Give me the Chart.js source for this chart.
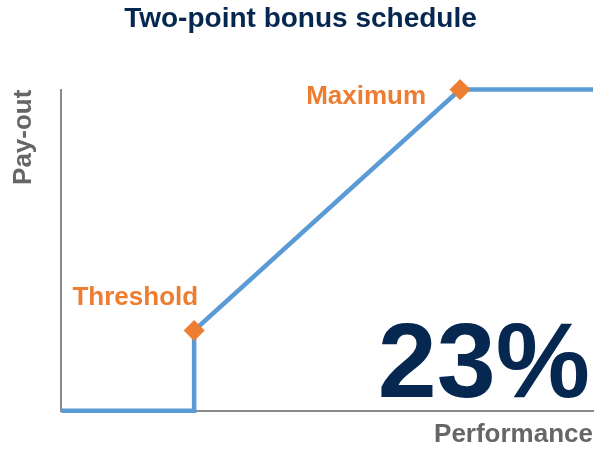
<!DOCTYPE html>
<html>
<head>
<meta charset="utf-8">
<title>Two-point bonus schedule</title>
<script src="https://cdn.jsdelivr.net/npm/chart.js@4.4.1/dist/chart.umd.min.js"></script>
<style>
  html, body { margin: 0; padding: 0; background: #ffffff; }
  #wrap { width: 606px; height: 452px; }
</style>
</head>
<body>
<div id="wrap"><canvas id="chart1" width="606" height="452"></canvas></div>
<script>
/* Datos del grafico */
var performance = [0, 25, 25, 75, 100];
var payout = [0, 0, 25, 100, 100];
var markerNames = ['Threshold', 'Maximum'];
var markerPerformance = [25, 75];
var markerPayout = [25, 100];
var headline = '23%';

var navy = '#06274f';
var grey = '#666666';
var orange = '#ed7d31';
var blue = '#5b9bd5';

var linePoints = [];
for (var i = 0; i < performance.length; i++) {
    linePoints.push({ x: performance[i], y: payout[i] });
}
var markerPoints = [];
for (var j = 0; j < markerNames.length; j++) {
    markerPoints.push({ x: markerPerformance[j], y: markerPayout[j] });
}

/* Etiquetas de los puntos y el numero grande */
var labelsPlugin = {
    id: 'labels',
    afterDatasetsDraw: function (chart) {
        var ctx = chart.ctx;
        var meta = chart.getDatasetMeta(1);
        var area = chart.chartArea;
        ctx.save();
        ctx.fillStyle = orange;
        ctx.font = 'bold 26px "Liberation Sans", Arial, sans-serif';
        ctx.textAlign = 'right';
        ctx.textBaseline = 'alphabetic';
        var t = meta.data[0];
        ctx.fillText(markerNames[0], t.x + 4, t.y - 26);
        var m = meta.data[1];
        ctx.fillText(markerNames[1], m.x - 34, m.y + 14);

        ctx.fillStyle = navy;
        ctx.font = 'bold 106px "Liberation Sans", Arial, sans-serif';
        ctx.fillText(headline, area.right - 3, area.bottom - 14);
        ctx.restore();
    }
};

var ctx1 = document.getElementById('chart1').getContext('2d');
var myChart = new Chart(ctx1, {
    type: 'scatter',
    data: {
        datasets: [{
            label: 'Pay-out',
            data: linePoints,
            showLine: true,
            borderColor: blue,
            borderWidth: 4.5,
            pointRadius: 0,
            pointHoverRadius: 0,
            tension: 0,
            clip: false,
            order: 2
        }, {
            label: 'Points',
            data: markerPoints,
            showLine: false,
            pointStyle: 'rectRot',
            pointRadius: 10,
            pointHoverRadius: 10,
            backgroundColor: orange,
            borderColor: orange,
            borderWidth: 1,
            clip: false,
            order: 1
        }]
    },
    options: {
        responsive: false,
        animation: false,
        events: [],
        layout: { padding: { left: 8, right: 13, top: 0, bottom: 0 } },
        plugins: {
            legend: { display: false },
            tooltip: { enabled: false },
            title: {
                display: true,
                text: 'Two-point bonus schedule',
                color: navy,
                font: { family: '"Liberation Sans", Arial, sans-serif', size: 28, weight: 'bold' },
                padding: { top: 2, bottom: 54 }
            }
        },
        scales: {
            x: {
                type: 'linear',
                min: 0,
                max: 100,
                grid: { display: false },
                border: { display: true, color: '#8a8a8a', width: 2 },
                ticks: { display: false },
                title: {
                    display: true,
                    text: 'Performance',
                    align: 'end',
                    color: grey,
                    font: { family: '"Liberation Sans", Arial, sans-serif', size: 26, weight: 'bold' },
                    padding: { top: 0, bottom: 2 }
                }
            },
            y: {
                type: 'linear',
                min: 0,
                max: 100,
                grid: { display: false },
                border: { display: true, color: '#8a8a8a', width: 2 },
                ticks: { display: false },
                title: {
                    display: true,
                    text: 'Pay-out',
                    align: 'end',
                    color: grey,
                    font: { family: '"Liberation Sans", Arial, sans-serif', size: 26, weight: 'bold' },
                    padding: { top: 0, bottom: 14 }
                }
            }
        }
    },
    plugins: [labelsPlugin]
});
</script>
</body>
</html>
